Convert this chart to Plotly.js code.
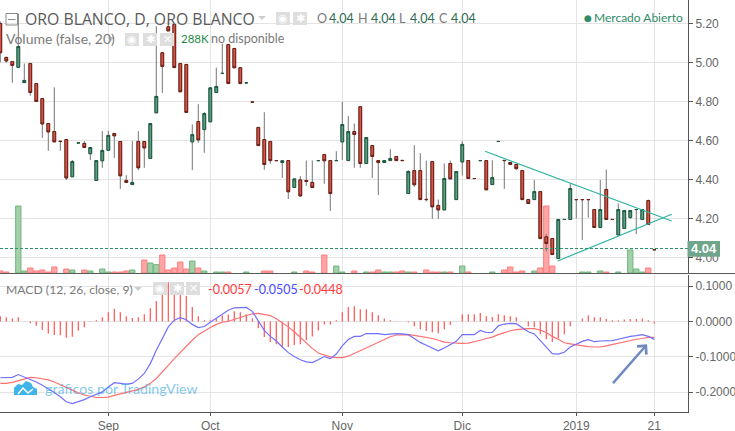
<!DOCTYPE html>
<html><head><meta charset="utf-8">
<script src="https://cdn.plot.ly/plotly-3.0.1.min.js"></script>
<style>html,body{margin:0;padding:0;background:#fff;overflow:hidden}#c{width:735px;height:431px}</style>
</head><body><div id="c"></div>
<script>
const opens=[5.20,5.026,5.005,4.975,4.897,4.995,4.892,4.815,4.687,4.646,4.596,4.605,4.414,4.588,4.585,4.532,4.395,4.496,4.55,4.636,4.595,4.395,4.374,4.595,4.595,4.508,4.742,5.05,5.183,5.195,4.995,4.99,4.593,4.697,4.656,4.696,4.846,4.944,5.092,5.072,4.973,4.896,4.797,4.667,4.605,4.595,4.497,4.487,4.497,4.359,4.398,4.395,4.385,4.497,4.528,4.497,4.497,4.593,4.497,4.646,4.773,4.482,4.574,4.497,4.487,4.497,4.518,4.498,4.328,4.446,4.446,4.298,4.492,4.267,4.244,4.482,4.297,4.49,4.497,4.405,4.497,4.497,4.374,4.595,4.498,4.487,4.477,4.446,4.297,4.297,4.338,4.106,4.097,3.995,4.195,4.195,4.297,4.297,4.297,4.246,4.154,4.349,4.195,4.116,4.149,4.205,4.246,4.195,4.292,4.04];
const highs=[5.21,5.03,5.005,5.25,4.995,4.995,4.892,4.815,4.687,4.872,4.596,4.605,4.50,4.588,4.597,4.564,4.497,4.648,4.65,4.636,4.595,4.422,4.597,4.648,4.595,4.687,5.186,5.05,5.214,5.2,4.995,4.99,4.682,4.786,4.745,4.87,4.974,5.097,5.092,5.072,4.973,4.896,4.797,4.667,4.745,4.595,4.497,4.496,4.497,4.403,4.417,4.497,4.497,4.497,4.528,4.497,4.545,4.798,4.725,4.687,4.773,4.615,4.574,4.497,4.497,4.556,4.518,4.498,4.448,4.576,4.535,4.497,4.492,4.297,4.482,4.497,4.441,4.597,4.497,4.405,4.497,4.497,4.499,4.595,4.498,4.487,4.477,4.446,4.297,4.397,4.338,4.12,4.097,4.195,4.195,4.38,4.297,4.297,4.297,4.246,4.397,4.451,4.195,4.277,4.241,4.241,4.246,4.246,4.297,4.04];
const lows=[5.00,5.00,4.896,4.975,4.897,4.83,4.798,4.614,4.547,4.593,4.547,4.397,4.414,4.588,4.564,4.50,4.395,4.46,4.55,4.511,4.352,4.385,4.374,4.448,4.46,4.508,4.742,4.844,5.162,4.974,4.85,4.744,4.448,4.588,4.537,4.696,4.846,4.944,4.892,4.973,4.892,4.896,4.797,4.574,4.45,4.48,4.497,4.408,4.30,4.359,4.311,4.367,4.359,4.497,4.378,4.239,4.497,4.50,4.497,4.46,4.46,4.482,4.408,4.32,4.487,4.497,4.497,4.497,4.328,4.362,4.297,4.287,4.198,4.198,4.244,4.403,4.297,4.42,4.405,4.405,4.497,4.347,4.374,4.595,4.352,4.477,4.448,4.297,4.277,4.297,4.097,4.03,4.015,3.995,4.195,4.195,4.20,4.089,4.205,4.154,4.154,4.195,4.195,4.116,4.149,4.198,4.12,4.195,4.169,4.04];
const closes=[5.05,5.008,4.985,5.082,4.908,4.846,4.80,4.685,4.644,4.593,4.595,4.408,4.492,4.588,4.564,4.564,4.497,4.549,4.626,4.624,4.419,4.385,4.385,4.46,4.562,4.687,4.826,4.98,5.162,4.974,4.85,4.744,4.63,4.603,4.738,4.87,4.877,4.944,4.892,4.973,4.892,4.896,4.797,4.574,4.477,4.497,4.497,4.496,4.337,4.403,4.316,4.39,4.359,4.497,4.496,4.328,4.497,4.682,4.646,4.631,4.482,4.615,4.518,4.487,4.497,4.508,4.497,4.497,4.441,4.373,4.297,4.297,4.26,4.244,4.405,4.403,4.441,4.58,4.405,4.405,4.497,4.347,4.41,4.595,4.497,4.477,4.456,4.297,4.277,4.338,4.097,4.072,4.015,4.195,4.195,4.354,4.297,4.297,4.297,4.154,4.246,4.195,4.195,4.246,4.241,4.241,4.246,4.246,4.169,4.04];
const volumes=[6,3,null,201,6,15,6,9,3,18,null,12,9,null,9,6,null,12,3,3,3,6,9,null,39,30,25,54,9,15,33,12,36,15,6,null,3,3,3,null,null,3,null,null,6,6,null,null,null,3,null,6,3,null,54,null,21,3,null,6,null,3,3,9,3,3,3,6,3,3,null,9,3,3,3,3,null,21,3,null,null,null,3,null,9,18,3,6,null,6,15,201,21,null,null,null,null,3,3,null,6,3,null,3,null,69,12,3,15,null];
const histogram=[.015,.012,.009,.012,.001,-.005,-.012,-.024,-.034,-.038,-.039,-.046,-.043,-.026,-.016,-.001,.004,.012,.026,.036,.026,.015,.01,.012,.021,.038,.058,.083,.111,.111,.097,.072,.041,.015,.004,.004,.009,.017,.02,.029,.026,.02,.009,-.019,-.044,-.058,-.064,-.073,-.072,-.066,-.064,-.053,-.042,-.025,-.008,-.008,.004,.026,.041,.043,.035,.035,.026,.018,.009,.004,.001,0,-.003,-.013,-.022,-.027,-.03,-.033,-.022,-.01,.001,.021,.021,.021,.024,.015,.013,.021,.018,.015,.012,0,-.013,-.016,-.036,-.05,-.058,-.048,-.036,-.013,0,.009,.018,.012,.012,.007,.004,.004,.006,.007,.007,.009,.004,-.0057];
const macdLine=[-.159,-.159,-.158,-.150,-.157,-.163,-.171,-.180,-.190,-.201,-.213,-.227,-.232,-.227,-.221,-.213,-.207,-.199,-.185,-.173,-.175,-.177,-.175,-.163,-.147,-.119,-.081,-.048,-.015,.004,.011,.005,-.008,-.017,-.014,-.002,.010,.022,.032,.039,.040,.040,.029,.002,-.025,-.042,-.055,-.072,-.088,-.099,-.108,-.114,-.116,-.108,-.099,-.105,-.092,-.069,-.051,-.042,-.042,-.034,-.034,-.034,-.037,-.035,-.034,-.035,-.037,-.048,-.059,-.067,-.076,-.083,-.075,-.065,-.056,-.037,-.037,-.037,-.025,-.031,-.031,-.012,-.007,-.005,-.006,-.018,-.029,-.035,-.054,-.075,-.091,-.092,-.087,-.072,-.063,-.056,-.051,-.057,-.055,-.054,-.054,-.050,-.045,-.042,-.040,-.037,-.042,-.0505];
const signalLine=[-.175,-.175,-.172,-.167,-.161,-.158,-.159,-.161,-.165,-.171,-.179,-.187,-.194,-.202,-.208,-.212,-.215,-.215,-.214,-.209,-.205,-.200,-.196,-.192,-.185,-.175,-.161,-.144,-.124,-.105,-.087,-.070,-.053,-.037,-.026,-.017,-.008,-.002,.001,.006,.012,.018,.022,.023,.021,.017,.008,-.003,-.015,-.029,-.045,-.062,-.076,-.089,-.095,-.100,-.102,-.102,-.098,-.090,-.083,-.075,-.065,-.058,-.050,-.043,-.038,-.037,-.037,-.039,-.042,-.043,-.048,-.053,-.058,-.060,-.062,-.062,-.061,-.058,-.053,-.048,-.044,-.037,-.031,-.026,-.023,-.021,-.020,-.020,-.024,-.031,-.042,-.050,-.060,-.063,-.066,-.069,-.071,-.072,-.072,-.069,-.065,-.061,-.056,-.052,-.050,-.048,-.045,-.0448];
const dateTicks=[18,35,57,77,96,109];
const dateLabels=['Sep','Oct','Nov','Dic','2019','21'];
const priceTicks=[5.2,5,4.8,4.6,4.4,4.2,4];
const priceLabels=['5.20','5.00','4.80','4.60','4.40','4.20','4.00'];
const macdTicks=[.1,0,-.1,-.2];
const macdLabels=['0.1000','0.0000','-0.1000','-0.2000'];
const trendUpperX=[80.8,111.9], trendUpperY=[4.545,4.187];
const trendLowerX=[92.9,111.9], trendLowerY=[3.982,4.222];

const idx=opens.map((_,i)=>i);
const W=688,H=412;
const px=x=>x/W, py=y=>1-y/H;
const GREENF='#5c9e80',GREENL='#1b5b40',REDF='#db5443',REDL='#6e1f16',WICK='#757575';
const volColors=idx.map(i=>closes[i]>=opens[i]?'#a3cfa9':'#ffa5a5');
const volLines=idx.map(i=>closes[i]>=opens[i]?'#6db67c':'#ff7d7d');

const traces=[
 {type:'bar',x:idx,y:volumes,yaxis:'y',xaxis:'x',width:.88,marker:{color:volColors,line:{color:volLines,width:1}},hoverinfo:'skip'},
 {type:'candlestick',x:idx,open:opens,high:highs,low:lows,close:closes,yaxis:'y3',xaxis:'x',hoverinfo:'skip',
  increasing:{line:{color:WICK,width:1},fillcolor:WICK},decreasing:{line:{color:WICK,width:1},fillcolor:WICK}},
 {type:'candlestick',x:idx,open:opens,close:closes,high:idx.map(i=>Math.max(opens[i],closes[i])),low:idx.map(i=>Math.min(opens[i],closes[i])),yaxis:'y3',xaxis:'x',hoverinfo:'skip',
  increasing:{line:{color:GREENL,width:1},fillcolor:GREENF},decreasing:{line:{color:REDL,width:1},fillcolor:REDF}},
 {type:'scatter',mode:'lines',x:trendUpperX,y:trendUpperY,yaxis:'y3',xaxis:'x',line:{color:'#2fb3a0',width:1.2},hoverinfo:'skip'},
 {type:'scatter',mode:'lines',x:trendLowerX,y:trendLowerY,yaxis:'y3',xaxis:'x',line:{color:'#2fb3a0',width:1.2},hoverinfo:'skip'},
 {type:'bar',x:idx,y:histogram,yaxis:'y2',xaxis:'x',width:.2,marker:{color:'#ff5252',line:{width:0}},hoverinfo:'skip'},
 {type:'scatter',mode:'lines',x:idx,y:signalLine,yaxis:'y2',xaxis:'x',line:{color:'#ff7070',width:1.2},hoverinfo:'skip'},
 {type:'scatter',mode:'lines',x:idx,y:macdLine,yaxis:'y2',xaxis:'x',line:{color:'#7070ff',width:1.2},hoverinfo:'skip'}
];

const FONT='"Liberation Sans",Arial,sans-serif';
const HDR='"Open Sans","Liberation Sans",sans-serif';
const LAT='Lato,"Liberation Sans",sans-serif';
function T(x,y,text,size,color,fam,extra){return Object.assign({xref:'paper',yref:'paper',x:px(x),y:py(y),xanchor:'left',yanchor:'middle',text:text,showarrow:false,borderpad:0,font:{family:fam||FONT,size:size,color:color}},extra||{});}
function box(x0,y0,x1,y1,fill,line){return {type:'rect',xref:'paper',yref:'paper',x0:px(x0),x1:px(x1),y0:py(y0),y1:py(y1),fillcolor:fill,line:line||{width:0},layer:'above'};}
function tri(x,y){const p=(a,b)=>px(a).toFixed(4)+','+py(b).toFixed(4);return {type:'path',xref:'paper',yref:'paper',path:'M'+p(x-4,y-2)+' L'+p(x+4,y-2)+' L'+p(x,y+2)+' Z',fillcolor:'#cfcfcf',line:{width:0},layer:'above'};}
function poly(pts,fill){const p=pts.map((q,i)=>(i?'L':'M')+px(q[0]).toFixed(4)+','+py(q[1]).toFixed(4)).join(' ')+' Z';return {type:'path',xref:'paper',yref:'paper',path:p,fillcolor:fill,line:{width:0},layer:'above'};}

const GRAY='#7a7a7a',ICON='#dedede',DG='#2b6b50';
const iconRows=[[125,33],[143,33],[160,33],[276,12],[293,12],[153,282],[170,282],[186,282]];
const shapes=[
 {type:'line',xref:'paper',yref:'paper',x0:0,x1:1,y0:py(248.5),y1:py(248.5),line:{color:'#2e9468',width:1,dash:'3px,2px'},layer:'above'},
 {type:'line',xref:'paper',yref:'paper',x0:0,x1:735/W,y0:py(273.5),y1:py(273.5),line:{color:'#5a5a5a',width:1},layer:'above'},
 box(6,13.5,17.5,25,'rgba(255,255,255,0)',{color:'#8a8a8a',width:1}),
 {type:'line',xref:'paper',yref:'paper',x0:px(8),x1:px(15.5),y0:py(19.5),y1:py(19.5),line:{color:'#8a8a8a',width:1},layer:'above'},
 tri(111,39),tri(262,18),tri(138,289),
 box(687.5,241,720,256.7,'#6fa58a')
];
iconRows.forEach(r=>shapes.push(box(r[0],r[1],r[0]+14,r[1]+13,ICON)));
shapes.push(poly([[14,395],[14,388],[18,384],[22,385],[26,381],[31,383],[33,387],[37,389],[37,395]],'#3fb4e8'));
shapes.push({type:'path',xref:'paper',yref:'paper',path:'M'+px(18)+','+py(394)+' L'+px(23)+','+py(388)+' L'+px(28)+','+py(393)+' L'+px(33)+','+py(389),line:{color:'#ffffff',width:1.5},layer:'above'});

const WM='rgba(60,170,225,.65)';
const annotations=[
 T(24,19,'ORO BLANCO, D, ORO BLANCO',15.8,'#5a5a5a',HDR),
 T(5,39,'Volume (false, 20)',14,GRAY,LAT),
 T(180,39,'288K',11.5,'#1f8a48',LAT),
 T(210,39,'no disponible',12.5,GRAY,LAT),
 T(315.5,19,'O',12.5,GRAY,LAT),T(328,19,'4.04',12.5,DG,LAT),
 T(357,19,'H',12.5,GRAY,LAT),T(370,19,'4.04',12.5,DG,LAT),
 T(398,19,'L',12.5,GRAY,LAT),T(409,19,'4.04',12.5,DG,LAT),
 T(438,19,'C',12.5,GRAY,LAT),T(450,19,'4.04',12.5,DG,LAT),
 T(583,17.5,'●',9,'#2e8b64','DejaVu Sans'),
 T(593,18,'Mercado Abierto',12,'#2e8b64',LAT),
 T(5,289,'MACD (12, 26, close, 9)',12.2,GRAY,LAT),
 T(207,289.5,'-0.0057',12.5,'#ff3b3b',LAT),T(253,289.5,'-0.0505',12.5,'#4a4aff',LAT),T(298,289.5,'-0.0448',12.5,'#ff3b3b',LAT),
 T(44,388,'gráficos por TradingView',14.2,WM,LAT),
 T(703.7,249,'4.04',13,'#ffffff',FONT,{xanchor:'center',font:{family:FONT,size:13,color:'#fff',weight:700}}),
 {xref:'x',yref:'y2',axref:'x',ayref:'y2',x:107.8,y:-.0645,ax:101.9,ay:-.1785,text:'',showarrow:true,arrowhead:4,arrowsize:1,arrowwidth:2.4,arrowcolor:'#6f89bf',standoff:0,startstandoff:0}
];
iconRows.forEach((r,k)=>{
  const g=['◉','✱','✕','◉','✱','◉','✱','✕'][k];
  annotations.push(T(r[0]+7,r[1]+6.5,g,11,'#ffffff','DejaVu Sans',{xanchor:'center'}));
});

const layout={
 width:735,height:431,margin:{l:0,r:47,t:0,b:19,pad:0},paper_bgcolor:'#fff',plot_bgcolor:'#fff',showlegend:false,dragmode:false,
 boxgap:.35,barmode:'overlay',
 xaxis:{range:[-.05,114.62],anchor:'y2',tickmode:'array',tickvals:dateTicks,ticktext:dateLabels,showgrid:true,gridcolor:'#e4e4e4',gridwidth:1,zeroline:false,showline:true,linecolor:'#555',linewidth:1,ticks:'outside',ticklen:3,tickcolor:'#555',tickfont:{family:FONT,size:12,color:'#666'},rangeslider:{visible:false}},
 yaxis:{domain:[1-273/H,1],range:[0,819],showgrid:false,zeroline:false,showticklabels:false,showline:false,ticks:''},
 yaxis3:{overlaying:'y',side:'right',range:[3.9205,5.3205],tickmode:'array',tickvals:priceTicks,ticktext:priceLabels,showgrid:true,gridcolor:'#e4e4e4',zeroline:false,showline:true,linecolor:'#555',ticks:'outside',ticklen:4,tickcolor:'#555',tickfont:{family:FONT,size:12,color:'#666'}},
 yaxis2:{domain:[0,137.5/H],side:'right',range:[-.256,.1332],tickmode:'array',tickvals:macdTicks,ticktext:macdLabels,showgrid:true,gridcolor:'#e4e4e4',zeroline:false,showline:true,linecolor:'#555',ticks:'outside',ticklen:4,tickcolor:'#555',tickfont:{family:FONT,size:12,color:'#666'}},
 shapes:shapes,annotations:annotations
};
Plotly.newPlot('c',traces,layout,{displayModeBar:false,staticPlot:true});
</script></body></html>
